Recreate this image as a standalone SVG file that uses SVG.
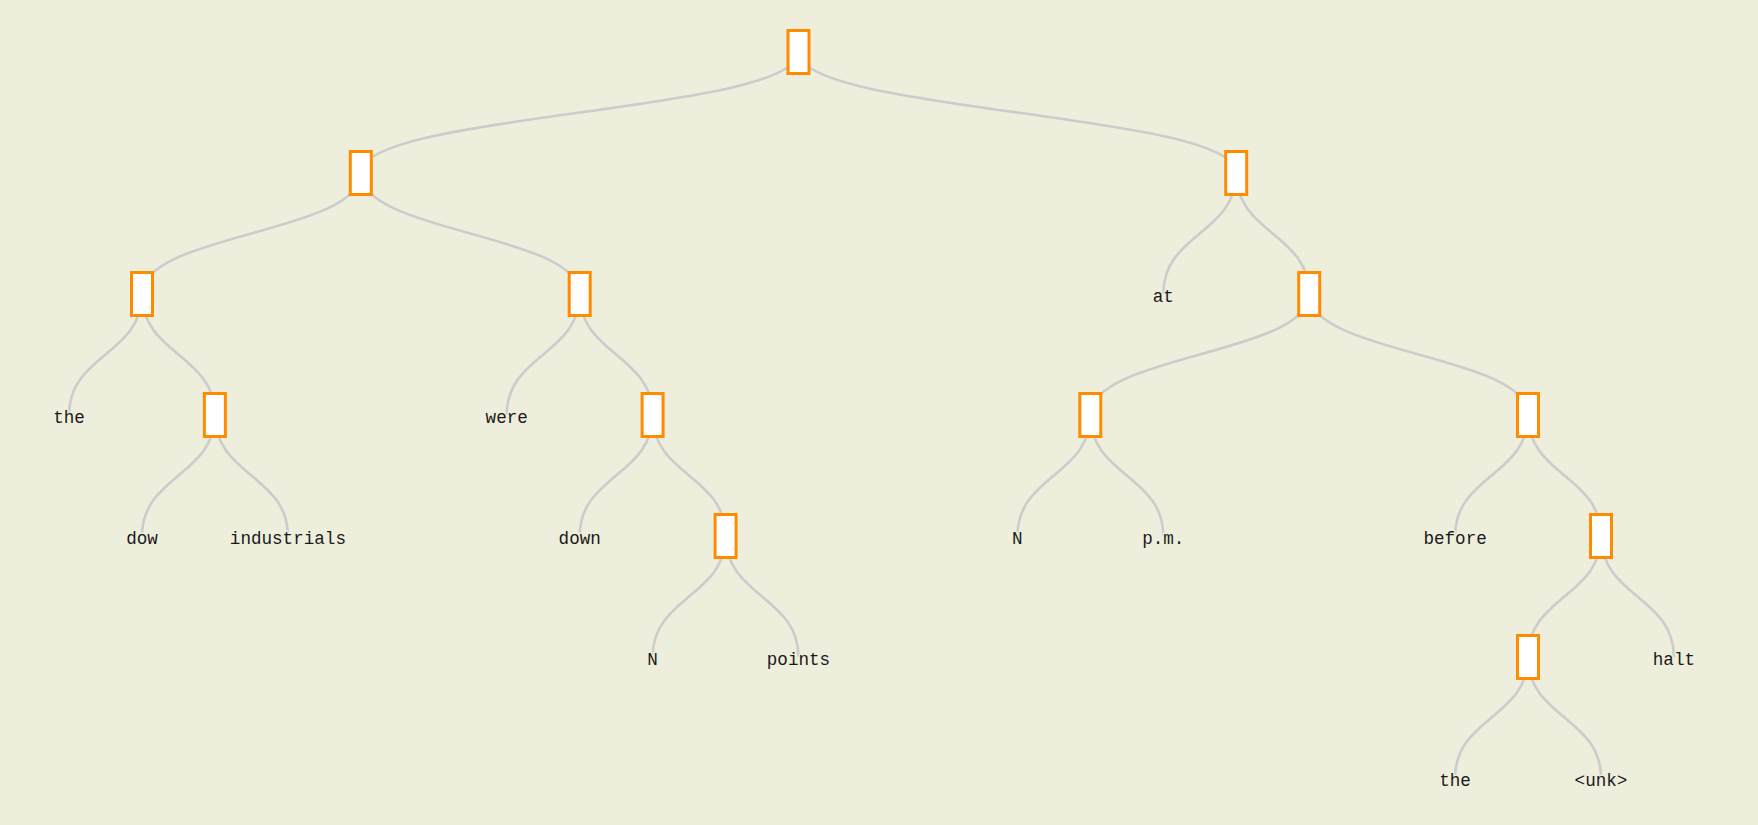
<svg xmlns="http://www.w3.org/2000/svg" width="1758" height="825" viewBox="0 0 1758 825">
<style>
.bg{fill:#eeeedd}
.link{fill:none;stroke:#cccccc;stroke-width:2.6}
.node rect{fill:#ffffff;stroke:#ff8c00;stroke-width:3}
.leaf text{font-family:"Liberation Mono","Courier New",monospace;font-size:17.6px;fill:#1a1a1a;text-anchor:middle;stroke:#eeeedd;stroke-width:3;paint-order:stroke;stroke-linejoin:round}
</style>
<rect class="bg" x="0" y="0" width="1758" height="825"/>
<g id="connectors">
<path class="link" d="M798.5,52C798.5,112.5 360.8,112.5 360.8,173"/>
<path class="link" d="M798.5,52C798.5,112.5 1236.2,112.5 1236.2,173"/>
<path class="link" d="M360.8,173C360.8,233.5 142,233.5 142,294"/>
<path class="link" d="M360.8,173C360.8,233.5 579.7,233.5 579.7,294"/>
<path class="link" d="M1236.2,173C1236.2,233.5 1163.3,233.5 1163.3,294"/>
<path class="link" d="M1236.2,173C1236.2,233.5 1309.2,233.5 1309.2,294"/>
<path class="link" d="M142,294C142,354.5 69,354.5 69,415"/>
<path class="link" d="M142,294C142,354.5 214.9,354.5 214.9,415"/>
<path class="link" d="M579.7,294C579.7,354.5 506.7,354.5 506.7,415"/>
<path class="link" d="M579.7,294C579.7,354.5 652.6,354.5 652.6,415"/>
<path class="link" d="M1309.2,294C1309.2,354.5 1090.3,354.5 1090.3,415"/>
<path class="link" d="M1309.2,294C1309.2,354.5 1528,354.5 1528,415"/>
<path class="link" d="M214.9,415C214.9,475.5 142,475.5 142,536"/>
<path class="link" d="M214.9,415C214.9,475.5 287.9,475.5 287.9,536"/>
<path class="link" d="M652.6,415C652.6,475.5 579.7,475.5 579.7,536"/>
<path class="link" d="M652.6,415C652.6,475.5 725.6,475.5 725.6,536"/>
<path class="link" d="M1090.3,415C1090.3,475.5 1017.4,475.5 1017.4,536"/>
<path class="link" d="M1090.3,415C1090.3,475.5 1163.3,475.5 1163.3,536"/>
<path class="link" d="M1528,415C1528,475.5 1455.1,475.5 1455.1,536"/>
<path class="link" d="M1528,415C1528,475.5 1601,475.5 1601,536"/>
<path class="link" d="M725.6,536C725.6,596.5 652.6,596.5 652.6,657"/>
<path class="link" d="M725.6,536C725.6,596.5 798.5,596.5 798.5,657"/>
<path class="link" d="M1601,536C1601,596.5 1528,596.5 1528,657"/>
<path class="link" d="M1601,536C1601,596.5 1673.9,596.5 1673.9,657"/>
<path class="link" d="M1528,657C1528,717.5 1455.1,717.5 1455.1,778"/>
<path class="link" d="M1528,657C1528,717.5 1601,717.5 1601,778"/>
</g>
<g id="n-root" class="node"><rect x="788" y="30.5" width="21" height="43"/></g>
<g id="n-A" class="node"><rect x="350.3" y="151.5" width="21" height="43"/></g>
<g id="n-B" class="node"><rect x="1225.7" y="151.5" width="21" height="43"/></g>
<g id="n-A1" class="node"><rect x="131.5" y="272.5" width="21" height="43"/></g>
<g id="n-A2" class="node"><rect x="569.2" y="272.5" width="21" height="43"/></g>
<g id="n-B2" class="node"><rect x="1298.7" y="272.5" width="21" height="43"/></g>
<g id="n-A1b" class="node"><rect x="204.4" y="393.5" width="21" height="43"/></g>
<g id="n-A2b" class="node"><rect x="642.1" y="393.5" width="21" height="43"/></g>
<g id="n-B2a" class="node"><rect x="1079.8" y="393.5" width="21" height="43"/></g>
<g id="n-B2b" class="node"><rect x="1517.5" y="393.5" width="21" height="43"/></g>
<g id="n-A2c" class="node"><rect x="715.1" y="514.5" width="21" height="43"/></g>
<g id="n-B2c" class="node"><rect x="1590.5" y="514.5" width="21" height="43"/></g>
<g id="n-B2d" class="node"><rect x="1517.5" y="635.5" width="21" height="43"/></g>
<g id="leaf-at" class="leaf"><text x="1163.3" y="302">at</text></g>
<g id="leaf-the1" class="leaf"><text x="69" y="423">the</text></g>
<g id="leaf-were" class="leaf"><text x="506.7" y="423">were</text></g>
<g id="leaf-dow" class="leaf"><text x="142" y="544">dow</text></g>
<g id="leaf-industrials" class="leaf"><text x="287.9" y="544">industrials</text></g>
<g id="leaf-down" class="leaf"><text x="579.7" y="544">down</text></g>
<g id="leaf-N1" class="leaf"><text x="1017.4" y="544">N</text></g>
<g id="leaf-pm" class="leaf"><text x="1163.3" y="544">p.m.</text></g>
<g id="leaf-before" class="leaf"><text x="1455.1" y="544">before</text></g>
<g id="leaf-N2" class="leaf"><text x="652.6" y="665">N</text></g>
<g id="leaf-points" class="leaf"><text x="798.5" y="665">points</text></g>
<g id="leaf-halt" class="leaf"><text x="1673.9" y="665">halt</text></g>
<g id="leaf-the2" class="leaf"><text x="1455.1" y="786">the</text></g>
<g id="leaf-unk" class="leaf"><text x="1601" y="786">&lt;unk&gt;</text></g>
</svg>
